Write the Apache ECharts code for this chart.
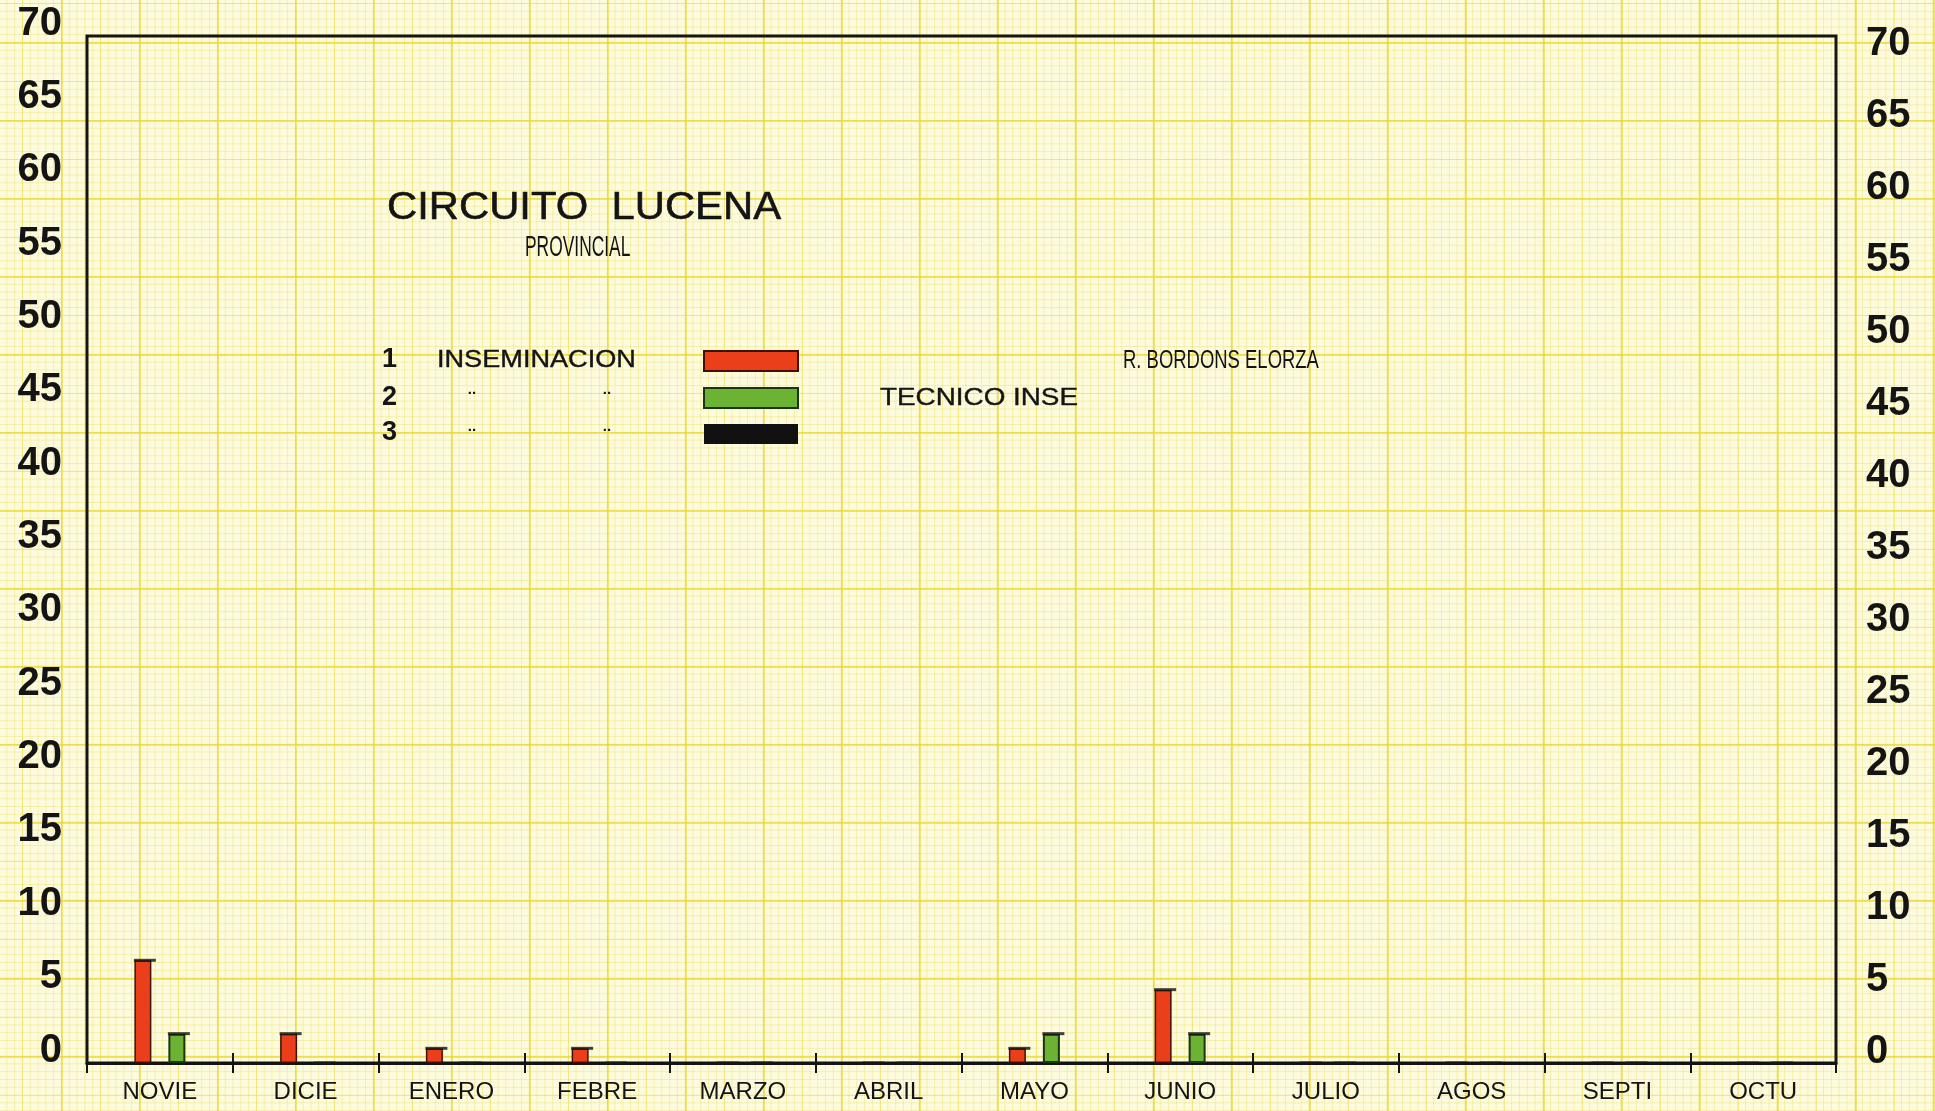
<!DOCTYPE html>
<html>
<head>
<meta charset="utf-8">
<title>Circuito Lucena</title>
<script src="https://cdn.jsdelivr.net/npm/echarts@6/dist/echarts.min.js"></script>
<style>
  html, body { margin: 0; padding: 0; width: 1935px; height: 1111px; overflow: hidden; }
  body {
    background-color: #fdfbdf;
    /* millimetre paper: bold 10 mm, medium 5 mm, fine 1 mm lines */
    background-image:
      linear-gradient(to right, rgba(236, 214, 40, 0.60) 2px, transparent 2px),
      linear-gradient(to bottom, rgba(236, 214, 40, 0.60) 2px, transparent 2px),
      linear-gradient(to right, rgba(238, 220, 70, 0.50) 1.3px, transparent 1.3px),
      linear-gradient(to bottom, rgba(238, 220, 70, 0.50) 1.3px, transparent 1.3px),
      linear-gradient(to right, rgba(240, 228, 120, 0.55) 1px, transparent 1px),
      linear-gradient(to bottom, rgba(240, 228, 120, 0.55) 1px, transparent 1px);
    background-size: 78px 78px, 78px 78px, 39px 39px, 39px 39px, 7.8px 7.8px, 7.8px 7.8px;
    background-position: 61px 0, 0 42px, 22px 0, 0 3px, 6.4px 0, 0 3px;
  }
  #chart { width: 1935px; height: 1111px; }
</style>
</head>
<body>
<div id="chart"></div>
<script>
// Months of the campaign, November to October
const months = ['NOVIE', 'DICIE', 'ENERO', 'FEBRE', 'MARZO', 'ABRIL', 'MAYO', 'JUNIO', 'JULIO', 'AGOS', 'SEPTI', 'OCTU'];

// Inseminations per month for each of the three series
const insem1 = [7, 2, 1, 1, 0, 0, 1, 5, 0, 0, 0, 0];
const insem2 = [2, 0, 0, 0, 0, 0, 2, 2, 0, 0, 0, 0];
const insem3 = [0, 0, 0, 0, 0, 0, 0, 0, 0, 0, 0, 0];

// Value scale shown on both sides
const yMin = 0;
const yMax = 70;
const yStep = 5;

const FONT = '"Liberation Sans", Arial, sans-serif';
const INK = '#141414';
const BAR_W = 17;

const chart = echarts.init(document.getElementById('chart'), null, { renderer: 'canvas' });

// Scale numbers sit just above their ruling line
const yLabel = (side) => ({
  fontFamily: FONT,
  fontSize: 40,
  fontWeight: 'bold',
  color: INK,
  margin: side === 'left' ? 25 : 30,
  verticalAlign: 'bottom',
  lineHeight: 25
});

// Short ink stroke across the top of each bar
const capSeries = (data, dx) => ({
  type: 'scatter', xAxisIndex: 0, yAxisIndex: 0, data: data,
  symbol: 'rect', symbolSize: [BAR_W + 5, 3], symbolOffset: [dx, 0],
  itemStyle: { color: INK }, z: 5, silent: true
});

chart.setOption({
  backgroundColor: 'transparent',
  animation: false,
  grid: [
    { left: 87, right: 99, top: 36, bottom: 48, show: true, borderColor: INK, borderWidth: 3, backgroundColor: 'transparent' },
    { left: 87, right: 99, top: 56, bottom: 47, show: false }
  ],
  xAxis: [
    {
      type: 'category', gridIndex: 0, data: months, position: 'bottom',
      axisLine: { show: true, lineStyle: { color: INK, width: 3 } },
      axisTick: { show: true, inside: false, length: 10, lineStyle: { color: INK, width: 2 } },
      axisLabel: { fontFamily: FONT, fontSize: 24, color: INK, margin: 17, interval: 0 },
      splitLine: { show: false }
    },
    {
      type: 'category', gridIndex: 0, data: months, position: 'bottom',
      axisLine: { show: false },
      axisTick: { show: true, inside: true, length: 10, lineStyle: { color: INK, width: 2 } },
      axisLabel: { show: false },
      splitLine: { show: false }
    },
    { type: 'category', gridIndex: 1, data: months, show: false }
  ],
  yAxis: [
    {
      type: 'value', gridIndex: 0, position: 'left', min: yMin, max: yMax, interval: yStep,
      axisLine: { show: false }, axisTick: { show: false }, splitLine: { show: false },
      axisLabel: yLabel('left')
    },
    {
      type: 'value', gridIndex: 1, position: 'right', min: yMin, max: yMax, interval: yStep,
      axisLine: { show: false }, axisTick: { show: false }, splitLine: { show: false },
      axisLabel: Object.assign(yLabel('right'), { align: 'left' })
    }
  ],
  legend: {
    data: ['1', '2', '3'],
    orient: 'vertical',
    left: 703,
    top: 350,
    padding: 0,
    itemWidth: 94,
    itemHeight: 20,
    itemGap: 15,
    icon: 'rect',
    selectedMode: false,
    formatter: () => '',
    textStyle: { fontSize: 1 }
  },
  series: [
    {
      name: '1', type: 'bar', xAxisIndex: 0, yAxisIndex: 0, data: insem1,
      barWidth: BAR_W, barGap: '100%',
      itemStyle: { color: '#ea3f1a', borderColor: '#3c1206', borderWidth: 1.5 }
    },
    {
      name: '2', type: 'bar', xAxisIndex: 0, yAxisIndex: 0, data: insem2, stack: 'b',
      barWidth: BAR_W, barGap: '100%',
      itemStyle: { color: '#6cb334', borderColor: '#1c3410', borderWidth: 2 }
    },
    {
      name: '3', type: 'bar', xAxisIndex: 0, yAxisIndex: 0, data: insem3, stack: 'b',
      barWidth: BAR_W, barGap: '100%',
      itemStyle: { color: '#111111', borderColor: '#000000', borderWidth: 0 }
    },
    capSeries(insem1, -BAR_W + 2),
    capSeries(insem2, BAR_W + 2)
  ],
  graphic: [
    { type: 'text', x: 387, y: 209, scaleX: 1.1,
      style: { text: 'CIRCUITO  LUCENA', font: '38px ' + FONT, fill: INK, stroke: INK, lineWidth: 0.6, textAlign: 'left', textVerticalAlign: 'middle' } },
    { type: 'text', x: 525, y: 248, scaleX: 0.6,
      style: { text: 'PROVINCIAL', font: '29px ' + FONT, fill: INK, textAlign: 'left', textVerticalAlign: 'middle' } },

    { type: 'text', x: 382, y: 360,
      style: { text: '1', font: 'bold 27px ' + FONT, fill: INK, textAlign: 'left', textVerticalAlign: 'middle' } },
    { type: 'text', x: 382, y: 398,
      style: { text: '2', font: 'bold 27px ' + FONT, fill: INK, textAlign: 'left', textVerticalAlign: 'middle' } },
    { type: 'text', x: 382, y: 433,
      style: { text: '3', font: 'bold 27px ' + FONT, fill: INK, textAlign: 'left', textVerticalAlign: 'middle' } },

    { type: 'text', x: 437, y: 360, scaleX: 1.13,
      style: { text: 'INSEMINACION', font: '24px ' + FONT, fill: INK, stroke: INK, lineWidth: 0.4, textAlign: 'left', textVerticalAlign: 'middle' } },

    { type: 'text', x: 472, y: 390,
      style: { text: '..', font: 'bold 15px ' + FONT, fill: INK, textAlign: 'center', textVerticalAlign: 'middle' } },
    { type: 'text', x: 607, y: 390,
      style: { text: '..', font: 'bold 15px ' + FONT, fill: INK, textAlign: 'center', textVerticalAlign: 'middle' } },
    { type: 'text', x: 472, y: 427,
      style: { text: '..', font: 'bold 15px ' + FONT, fill: INK, textAlign: 'center', textVerticalAlign: 'middle' } },
    { type: 'text', x: 607, y: 427,
      style: { text: '..', font: 'bold 15px ' + FONT, fill: INK, textAlign: 'center', textVerticalAlign: 'middle' } },

    { type: 'text', x: 880, y: 398, scaleX: 1.16,
      style: { text: 'TECNICO INSE', font: '24px ' + FONT, fill: INK, stroke: INK, lineWidth: 0.4, textAlign: 'left', textVerticalAlign: 'middle' } },
    { type: 'text', x: 1123, y: 361, scaleX: 0.71,
      style: { text: 'R. BORDONS ELORZA', font: '26px ' + FONT, fill: INK, textAlign: 'left', textVerticalAlign: 'middle' } }
  ]
});
</script>
</body>
</html>
